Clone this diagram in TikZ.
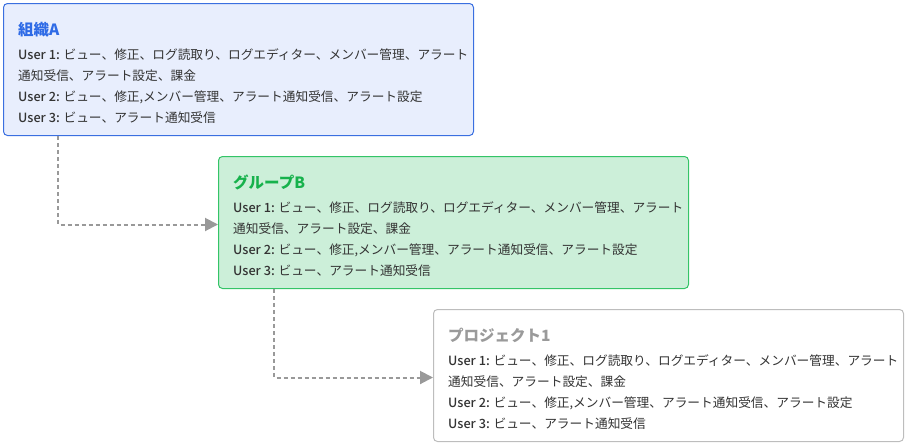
\documentclass[tikz,border=0pt]{standalone}
\usepackage{fontspec}
\setmainfont{Noto Sans CJK JP}
\newfontfamily\bodyfont{Noto Sans CJK JP}[BoldFont={* Medium}]
\usetikzlibrary{arrows.meta,calc}
\definecolor{fillA}{HTML}{E8EEFD}
\definecolor{drawA}{HTML}{3A6FE0}
\definecolor{titleA}{HTML}{2F6BE6}
\definecolor{fillB}{HTML}{CCEFD9}
\definecolor{drawB}{HTML}{34C467}
\definecolor{titleB}{HTML}{16B24C}
\definecolor{drawC}{HTML}{BDBDBD}
\definecolor{titleC}{HTML}{9A9A9A}
\definecolor{bodytext}{HTML}{333333}
\definecolor{connc}{HTML}{999999}
\newcommand\permbox[6]{%
  \node[permframe,#4] (#1) at (#2,#3) {};
  \node[boxtitle,text=#5] (#1-t) at ($(#1.north west)+(15,32)$) {#6};
  \node[bodyline] (#1-1) at ($(#1.north west)+(15,56)$) {\textbf{User 1:} ビュー、修正、ログ読取り、ログエディター、メンバー管理、アラート};
  \node[bodyline] (#1-2) at ($(#1.north west)+(15,77)$) {通知受信、アラート設定、課金};
  \node[bodyline] (#1-3) at ($(#1.north west)+(15,98)$) {\textbf{User 2:} ビュー、修正,メンバー管理、アラート通知受信、アラート設定};
  \node[bodyline] (#1-4) at ($(#1.north west)+(15,119)$) {\textbf{User 3:} ビュー、アラート通知受信};
}
\begin{document}
\begin{tikzpicture}[x=1pt,y=-1pt,
  permframe/.style={rectangle,rounded corners=4pt,line width=1pt,minimum width=470pt,minimum height=132pt,anchor=north west,inner sep=0pt},
  frameA/.style={fill=fillA,draw=drawA},
  frameB/.style={fill=fillB,draw=drawB},
  frameC/.style={fill=white,draw=drawC},
  boxtitle/.style={anchor=base west,inner sep=0pt,font=\fontsize{15.5}{18}\selectfont\bfseries},
  bodyline/.style={anchor=base west,inner sep=0pt,text=bodytext,font=\bodyfont\fontsize{12.7}{15}\selectfont},
  conn/.style={draw=connc,line width=2pt,dash pattern=on 4pt off 3pt,-{Triangle[length=13pt,width=13pt]}}]
\useasboundingbox (0,0) rectangle (907,445);
\permbox{A}{3}{3}{frameA}{titleA}{組織A}
\permbox{B}{218}{156}{frameB}{titleB}{グループB}
\permbox{C}{433}{309}{frameC}{titleC}{プロジェクト1}
\coordinate (a1) at ($(A.south west)+(55,0)$);
\coordinate (b1) at ($(B.south west)+(56,0)$);
\draw[conn] (a1) |- ($(B.west)+(0,2)$);
\draw[conn] (b1) |- ($(C.west)+(0,2)$);
\end{tikzpicture}
\end{document}
